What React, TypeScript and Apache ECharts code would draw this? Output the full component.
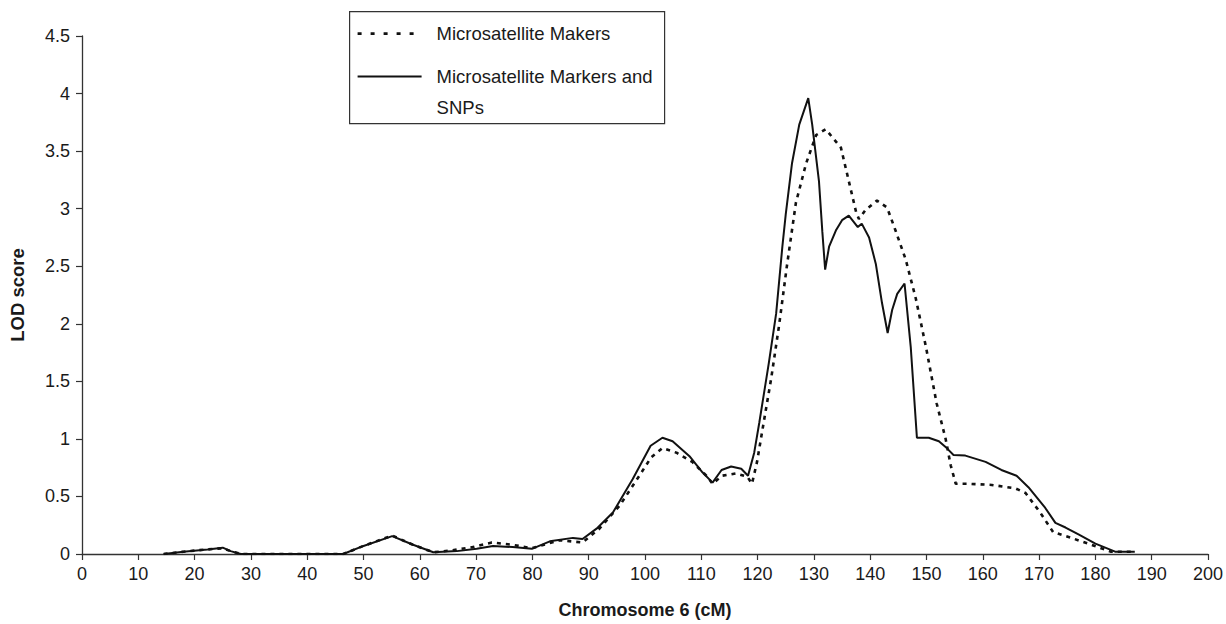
import React, { useEffect, useRef } from "react";
import * as echarts from "echarts";

const xTicks = { min: 0, max: 200, interval: 10 };
const yTicks = { min: 0, max: 4.5, interval: 0.5 };

const seriesNames = ["Microsatellite Makers", "Microsatellite Markers and SNPs"];

const dotX = [14.5, 18, 22.3, 25, 26.4, 28.2, 35, 46.4, 50, 55.1, 58.8, 62.4, 65.4, 69.4, 72.8, 76.5, 79.9, 84.9, 88.9, 91.9, 95.5, 99, 101.1, 103.1, 105.6, 108.4, 110.9, 112, 113.7, 116.2, 118.2, 119, 119.9, 120.9, 122.4, 123.8, 125.2, 126.8, 128.6, 130.4, 132.1, 134.8, 136.2, 137.5, 138, 139.2, 141.2, 143, 144.5, 146.3, 148.1, 149.9, 151.8, 153.4, 154.3, 155.2, 157.5, 161.6, 165.8, 167.6, 170.2, 172.5, 175.7, 179.3, 182.8, 187];
const dotY = [0, 0.02, 0.04, 0.05, 0.025, 0, 0, 0, 0.07, 0.16, 0.08, 0.015, 0.03, 0.06, 0.1, 0.08, 0.05, 0.12, 0.1, 0.22, 0.42, 0.68, 0.84, 0.92, 0.88, 0.8, 0.68, 0.61, 0.68, 0.7, 0.67, 0.61, 0.8, 1.09, 1.52, 1.98, 2.5, 3.05, 3.39, 3.64, 3.69, 3.53, 3.24, 2.97, 2.91, 2.99, 3.07, 3.01, 2.81, 2.56, 2.22, 1.8, 1.31, 1.0, 0.77, 0.61, 0.61, 0.6, 0.57, 0.53, 0.36, 0.19, 0.14, 0.08, 0.02, 0.02];

const solidX = [14.5, 18, 22.3, 25, 26.4, 28.2, 35, 46.4, 50, 55.1, 58.8, 62.4, 66.6, 70.1, 73, 76.5, 79.9, 83.1, 87.2, 88.9, 91.4, 94.3, 97.8, 101, 103.1, 104.9, 107.9, 110.2, 112, 113.6, 115.3, 117.1, 118.3, 119.4, 120.3, 122, 123.3, 124.4, 125, 126.1, 127.4, 129, 129.7, 130.9, 131.5, 132, 132.7, 133.9, 135, 136.2, 137.8, 138.5, 139.8, 141, 142.1, 143.1, 143.9, 144.8, 146.1, 147.2, 148.3, 150.4, 152.2, 153.6, 154.8, 156.9, 160.5, 163.3, 166, 168.1, 171.1, 172.9, 174.7, 177, 180, 183.5, 187];
const solidY = [0, 0.02, 0.04, 0.055, 0.025, 0, 0, 0, 0.07, 0.155, 0.08, 0.015, 0.025, 0.045, 0.07, 0.06, 0.045, 0.11, 0.14, 0.13, 0.22, 0.36, 0.65, 0.94, 1.01, 0.98, 0.85, 0.71, 0.62, 0.73, 0.76, 0.74, 0.68, 0.88, 1.14, 1.66, 2.09, 2.67, 2.95, 3.39, 3.73, 3.96, 3.73, 3.24, 2.8, 2.47, 2.67, 2.81, 2.9, 2.94, 2.84, 2.87, 2.75, 2.52, 2.18, 1.92, 2.12, 2.26, 2.35, 1.8, 1.01, 1.01, 0.98, 0.92, 0.86, 0.855, 0.8, 0.73, 0.68, 0.58, 0.4, 0.27, 0.23, 0.17, 0.09, 0.02, 0.02];

const FONT = "'Liberation Sans', Arial, sans-serif";

export default function App() {
  const ref = useRef<HTMLDivElement>(null);
  useEffect(() => {
    if (!ref.current) return;
    const chart = echarts.init(ref.current, null, { renderer: "svg" });
    const pair = (xs: number[], ys: number[]) => xs.map((x, i) => [x, ys[i]]);
    const legendText = { fontFamily: FONT, fontSize: 18.5, fill: "#1a1a1a", verticalAlign: "middle" };
    chart.setOption({
      animation: false,
      backgroundColor: "#ffffff",
      grid: { left: 81, right: 16, top: 36, bottom: 65, containLabel: false },
      xAxis: {
        type: "value",
        min: xTicks.min,
        max: xTicks.max,
        interval: xTicks.interval,
        name: "Chromosome 6 (cM)",
        nameLocation: "middle",
        nameGap: 47,
        nameTextStyle: { fontFamily: FONT, fontSize: 18, fontWeight: "bold", color: "#1a1a1a" },
        axisLine: { show: true, lineStyle: { color: "#333", width: 1.3 } },
        axisTick: { show: true, length: 6, lineStyle: { color: "#333", width: 1.2 } },
        axisLabel: { fontFamily: FONT, fontSize: 18, color: "#1a1a1a", margin: 11 },
        splitLine: { show: false },
      },
      yAxis: {
        type: "value",
        min: yTicks.min,
        max: yTicks.max,
        interval: yTicks.interval,
        name: "LOD score",
        nameLocation: "middle",
        nameGap: 55,
        nameRotate: 90,
        nameTextStyle: { fontFamily: FONT, fontSize: 18.5, fontWeight: "bold", color: "#1a1a1a" },
        axisLine: { show: true, lineStyle: { color: "#333", width: 1.3 } },
        axisTick: { show: true, length: 6, lineStyle: { color: "#333", width: 1.2 } },
        axisLabel: { fontFamily: FONT, fontSize: 18, color: "#1a1a1a", margin: 12 },
        splitLine: { show: false },
      },
      series: [
        {
          name: seriesNames[0],
          type: "line",
          data: pair(dotX, dotY),
          showSymbol: false,
          symbol: "none",
          smooth: false,
          lineStyle: { color: "#111", width: 2.6, type: [4, 5] },
          z: 3,
        },
        {
          name: seriesNames[1],
          type: "line",
          data: pair(solidX, solidY),
          showSymbol: false,
          symbol: "none",
          smooth: false,
          lineStyle: { color: "#111", width: 2 },
          z: 4,
        },
      ],
      graphic: [
        {
          type: "group",
          left: 349,
          top: 11,
          children: [
            { type: "rect", shape: { x: 0, y: 0, width: 315, height: 112 }, style: { fill: "#fff", stroke: "#333", lineWidth: 1.2 } },
            { type: "line", shape: { x1: 8, y1: 22, x2: 72, y2: 22 }, style: { stroke: "#111", lineWidth: 2.6, lineDash: [4, 9] } },
            { type: "line", shape: { x1: 8, y1: 65, x2: 72, y2: 65 }, style: { stroke: "#111", lineWidth: 2 } },
            { type: "text", x: 87, y: 22, style: { ...legendText, text: seriesNames[0] } },
            { type: "text", x: 87, y: 65, style: { ...legendText, text: "Microsatellite Markers and" } },
            { type: "text", x: 87, y: 96, style: { ...legendText, text: "SNPs" } },
          ],
        },
      ],
    });
    return () => chart.dispose();
  }, []);
  return <div ref={ref} style={{ width: 1226, height: 624, position: "absolute", left: 0, top: 0 }} />;
}
